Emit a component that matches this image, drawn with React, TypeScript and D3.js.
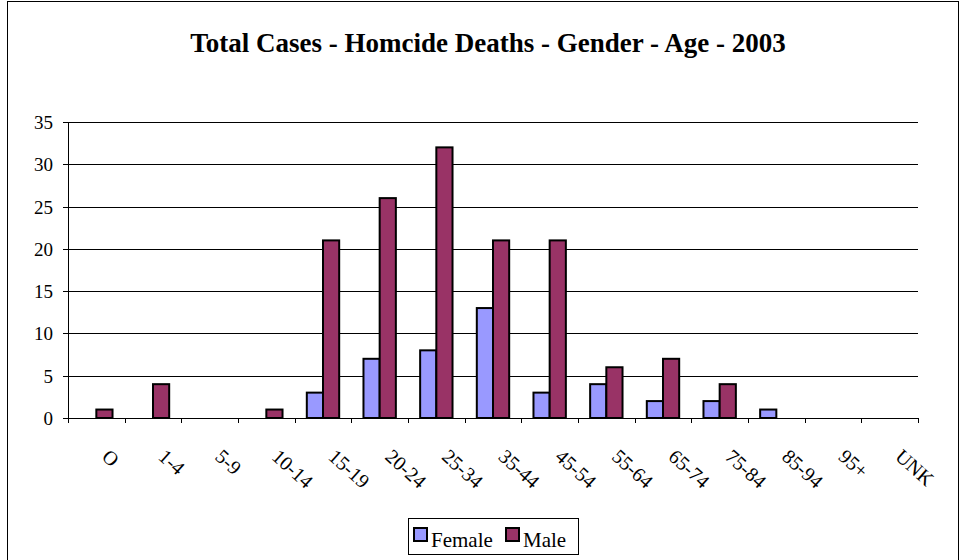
import React from "react";
import * as d3 from "d3";

const categories = ["O", "1-4", "5-9", "10-14", "15-19", "20-24", "25-34", "35-44", "45-54", "55-64", "65-74", "75-84", "85-94", "95+", "UNK"];
const female = [0, 0, 0, 0, 3, 7, 8, 13, 3, 4, 2, 2, 1, 0, 0];
const male = [1, 4, 0, 1, 21, 26, 32, 21, 21, 6, 7, 4, 0, 0, 0];
const seriesNames = ["Female", "Male"];
const seriesColors = ["#9999FF", "#993366"];
const yTicks = [0, 5, 10, 15, 20, 25, 30, 35];
const title = "Total Cases - Homcide Deaths - Gender - Age - 2003";

export default function App() {
  const W = 962, H = 560;
  const left = 68, right = 918, top = 122, bottom = 418;
  const ff = "Liberation Serif";
  const x0 = d3.scaleBand<string>().domain(categories).range([left, right]).padding(0);
  const x1 = d3.scaleBand<string>().domain(seriesNames).range([0, x0.bandwidth()]).paddingInner(0).paddingOuter(0.75);
  const y = d3.scaleLinear().domain([0, 35]).range([bottom, top]);
  const series = [female, male];
  const step = x0.step();
  const boundaries = d3.range(categories.length + 1).map((i) => left + i * step);

  return (
    <svg width={W} height={H} style={{ position: "absolute", left: 0, top: 0, background: "#fff" }}>
      <rect x={7.5} y={1.5} width={951} height={H + 20} fill="#fff" stroke="#000" strokeWidth={1} />
      <text x={488} y={52} textAnchor="middle" fontSize={27} fontWeight="bold" fontFamily={ff}>{title}</text>
      {yTicks.map((t) => (
        <g key={t}>
          <line x1={left} x2={right} y1={Math.round(y(t)) + 0.5} y2={Math.round(y(t)) + 0.5} stroke="#000" strokeWidth={1} />
          <line x1={left - 5} x2={left} y1={Math.round(y(t)) + 0.5} y2={Math.round(y(t)) + 0.5} stroke="#000" strokeWidth={1} />
          <text x={53} y={y(t) + 7} textAnchor="end" fontSize={19} fontFamily={ff}>{t}</text>
        </g>
      ))}
      <line x1={left + 0.5} x2={left + 0.5} y1={top} y2={bottom + 5} stroke="#000" strokeWidth={1} />
      {boundaries.map((b, i) => (
        <line key={i} x1={Math.round(b) + 0.5} x2={Math.round(b) + 0.5} y1={bottom} y2={bottom + 5} stroke="#000" strokeWidth={1} />
      ))}
      {categories.map((c, i) => (
        <g key={c}>
          {series.map((s, j) => (
            s[i] > 0 ? (
              <rect key={j}
                x={(x0(c) as number) + (x1(seriesNames[j]) as number)}
                y={y(s[i])}
                width={x1.bandwidth()}
                height={y(0) - y(s[i])}
                fill={seriesColors[j]} stroke="#000" strokeWidth={2} />
            ) : null
          ))}
        </g>
      ))}
      {categories.map((c) => {
        const cx = (x0(c) as number) + x0.bandwidth() / 2;
        return (
          <text key={c} transform={`translate(${cx + 9},${453}) rotate(42)`} dy="0.35em" textAnchor="start" fontSize={20} fontFamily={ff}>{c}</text>
        );
      })}
      <rect x={408.5} y={518.5} width={170} height={36} fill="#fff" stroke="#000" strokeWidth={1} />
      {seriesNames.map((n, j) => {
        const lx = j === 0 ? 414 : 506;
        return (
          <g key={n}>
            <rect x={lx} y={528} width={13} height={13} fill={seriesColors[j]} stroke="#000" strokeWidth={2} />
            <text x={lx + 17} y={547} fontSize={21} fontFamily={ff}>{n}</text>
          </g>
        );
      })}
    </svg>
  );
}
